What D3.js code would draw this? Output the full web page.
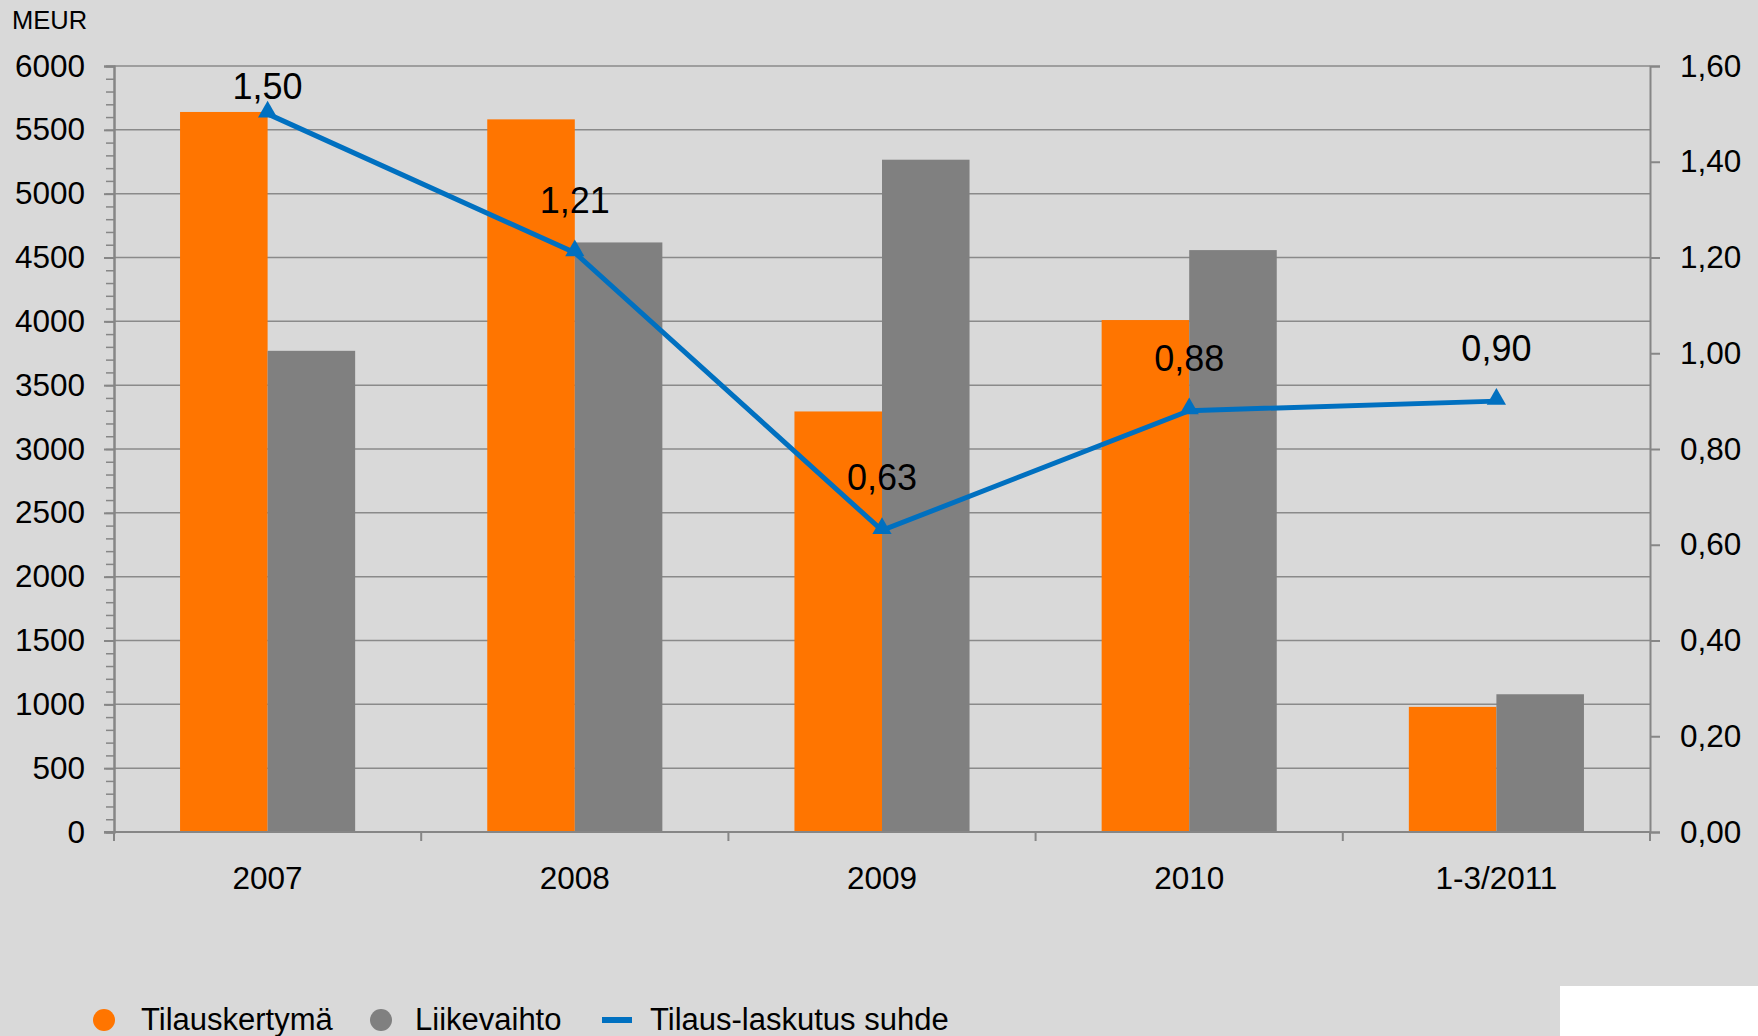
<!DOCTYPE html>
<html>
<head>
<meta charset="utf-8">
<script src="https://cdn.jsdelivr.net/npm/d3@7"></script>
<style>
    body { margin: 0; background: #d9d9d9; }
    svg { display: block; font-family: "Liberation Sans", Arial, sans-serif; }
</style>
</head>
<body>
<div id="chart-container"></div>
<script>
const categories = ["2007", "2008", "2009", "2010", "1-3/2011"];
const orders = [5640, 5582, 3294, 4010, 980];      // Tilauskertymä
const revenue = [3769, 4618, 5266, 4558, 1079];    // Liikevaihto
const ratio = [1.50, 1.21, 0.63, 0.88, 0.90];       // Tilaus-laskutus suhde
const leftTicks = [0, 500, 1000, 1500, 2000, 2500, 3000, 3500, 4000, 4500, 5000, 5500, 6000];
const rightTicks = [0, 0.2, 0.4, 0.6, 0.8, 1.0, 1.2, 1.4, 1.6];

const seriesNames = ["Tilauskertymä", "Liikevaihto", "Tilaus-laskutus suhde"];
const colors = {orange: "#ff7500", gray: "#808080", blue: "#0070c0", grid: "#8a8a8a"};

function initChart() {
    const width = 1758;
    const height = 1036;
    const margin = {top: 66, right: 108, bottom: 204, left: 114};
    const innerWidth = width - margin.left - margin.right;
    const innerHeight = height - margin.top - margin.bottom;

    const svg = d3.select("#chart-container").append("svg")
        .attr("width", width)
        .attr("height", height);

    svg.append("rect")
        .attr("width", width)
        .attr("height", height)
        .attr("fill", "#d9d9d9");

    const chart = svg.append("g")
        .attr("transform", `translate(${margin.left}, ${margin.top})`);

    const x0 = d3.scaleBand()
        .domain(categories)
        .range([0, innerWidth])
        .paddingInner(0.43)
        .paddingOuter(0.215);

    const x1 = d3.scaleBand()
        .domain(["orders", "revenue"])
        .range([0, x0.bandwidth()]);

    const y = d3.scaleLinear()
        .domain([0, 6000])
        .range([innerHeight, 0]);

    const y2 = d3.scaleLinear()
        .domain([0, 1.6])
        .range([innerHeight, 0]);

    // gridlines
    chart.append("g")
        .selectAll("line")
        .data(leftTicks.slice(1))
        .enter().append("line")
        .attr("x1", 0)
        .attr("x2", innerWidth)
        .attr("y1", d => y(d))
        .attr("y2", d => y(d))
        .attr("stroke", colors.grid)
        .attr("stroke-width", 1.5);

    // bars
    const rows = categories.map((c, i) => ({cat: c, orders: orders[i], revenue: revenue[i]}));
    const groups = chart.append("g")
        .selectAll("g")
        .data(rows)
        .enter().append("g")
        .attr("transform", d => `translate(${x0(d.cat)}, 0)`);

    groups.selectAll("rect")
        .data(d => [{key: "orders", value: d.orders}, {key: "revenue", value: d.revenue}])
        .enter().append("rect")
        .attr("x", d => x1(d.key))
        .attr("y", d => y(d.value))
        .attr("width", x1.bandwidth())
        .attr("height", d => innerHeight - y(d.value))
        .attr("fill", d => d.key === "orders" ? colors.orange : colors.gray);

    renderAxes(chart, x0, y, y2, innerWidth, innerHeight);

    // ratio line
    const cx = c => x0(c) + x0.bandwidth() / 2;
    const line = d3.line()
        .x((d, i) => cx(categories[i]))
        .y(d => y2(d));

    chart.append("path")
        .datum(ratio)
        .attr("d", line)
        .attr("fill", "none")
        .attr("stroke", colors.blue)
        .attr("stroke-width", 5);

    chart.selectAll(".marker")
        .data(ratio)
        .enter().append("path")
        .attr("class", "marker")
        .attr("d", d3.symbol().type(d3.symbolTriangle).size(160))
        .attr("transform", (d, i) => `translate(${cx(categories[i])}, ${y2(d) - 2})`)
        .attr("fill", colors.blue);

    chart.selectAll(".label")
        .data(ratio)
        .enter().append("text")
        .attr("class", "label")
        .attr("x", (d, i) => cx(categories[i]))
        .attr("y", d => Math.max(y2(d) - 40, 33))
        .attr("text-anchor", "middle")
        .attr("font-size", 36)
        .attr("fill", "#000")
        .text(d => d.toFixed(2).replace(".", ","));

    svg.append("text")
        .attr("x", 12)
        .attr("y", 29)
        .attr("font-size", 25.5)
        .text("MEUR");

    renderLegend(svg);

    // white logo box in the corner
    svg.append("rect")
        .attr("x", 1560)
        .attr("y", 986)
        .attr("width", width - 1560)
        .attr("height", height - 986)
        .attr("fill", "#ffffff");
}

function renderAxes(chart, x0, y, y2, innerWidth, innerHeight) {
    const axisColor = "#868686";

    // minor ticks on left
    chart.append("g")
        .attr("class", "axis minor")
        .call(d3.axisLeft(y).tickValues(d3.range(0, 6001, 100)).tickSize(8).tickFormat(""));

    chart.append("g")
        .attr("class", "axis left")
        .call(d3.axisLeft(y)
            .tickValues(leftTicks)
            .tickSize(10)
            .tickPadding(19)
            .tickFormat(d => d));

    chart.append("g")
        .attr("class", "axis right")
        .attr("transform", `translate(${innerWidth}, 0)`)
        .call(d3.axisRight(y2)
            .tickValues(rightTicks)
            .tickSize(10)
            .tickPadding(20)
            .tickFormat(d => d.toFixed(2).replace(".", ",")));

    // bottom axis, ticks at category boundaries
    const bottom = chart.append("g")
        .attr("class", "axis bottom")
        .attr("transform", `translate(0, ${innerHeight})`);
    bottom.append("line")
        .attr("x1", -10)
        .attr("x2", innerWidth)
        .attr("stroke", axisColor)
        .attr("stroke-width", 2);
    const step = x0.step();
    bottom.selectAll(".btick")
        .data(d3.range(categories.length + 1))
        .enter().append("line")
        .attr("class", "btick")
        .attr("x1", d => d * step)
        .attr("x2", d => d * step)
        .attr("y1", 0)
        .attr("y2", 9)
        .attr("stroke", axisColor)
        .attr("stroke-width", 2);
    bottom.selectAll(".blabel")
        .data(categories)
        .enter().append("text")
        .attr("class", "blabel")
        .attr("x", d => x0(d) + x0.bandwidth() / 2)
        .attr("y", 57)
        .attr("text-anchor", "middle")
        .attr("fill", "#000")
        .text(d => d);

    chart.selectAll(".axis path.domain")
        .attr("stroke", axisColor)
        .attr("stroke-width", 2);
    chart.selectAll(".axis line")
        .attr("stroke", axisColor)
        .attr("stroke-width", 2);
    chart.selectAll(".axis.minor line")
        .attr("stroke-width", 1.5);
    chart.selectAll(".axis text")
        .attr("font-size", 31.5)
        .attr("font-family", "\"Liberation Sans\", Arial, sans-serif")
        .attr("fill", "#000");
}

function renderLegend(svg) {
    const legend = svg.append("g")
        .attr("transform", "translate(0, 1020)");

    const items = [
        {name: seriesNames[0], color: colors.orange, type: "circle", x: 104, tx: 141},
        {name: seriesNames[1], color: colors.gray, type: "circle", x: 381, tx: 415},
        {name: seriesNames[2], color: colors.blue, type: "line", x: 617, tx: 650},
    ];

    items.forEach(item => {
        if (item.type === "circle") {
            legend.append("circle")
                .attr("cx", item.x)
                .attr("cy", 0)
                .attr("r", 11)
                .attr("fill", item.color);
        } else {
            legend.append("rect")
                .attr("x", item.x - 15)
                .attr("y", -3)
                .attr("width", 30)
                .attr("height", 6)
                .attr("fill", item.color);
        }
        legend.append("text")
            .attr("x", item.tx)
            .attr("y", 10)
            .attr("font-size", 31)
            .attr("fill", "#000")
            .text(item.name);
    });
}

initChart();
</script>
</body>
</html>
